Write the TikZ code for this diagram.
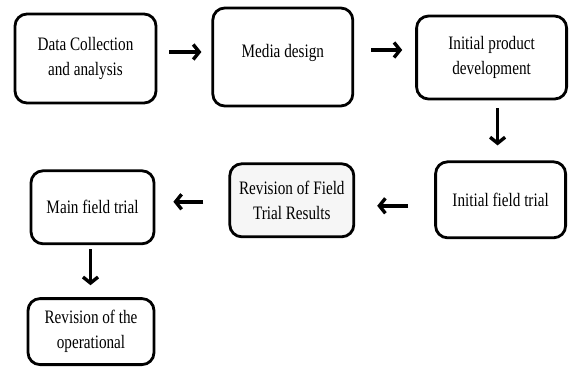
\documentclass[tikz,border=0pt]{standalone}
\usepackage{fontspec}
\setmainfont{Liberation Serif}[FakeStretch=0.8]
\usetikzlibrary{shapes,arrows.meta,positioning,calc}

\begin{document}
\begin{tikzpicture}[x=1pt, y=1pt, node distance=1cm,
    box/.style={rectangle, draw, line width=2.8pt, rounded corners=12pt, align=center, inner sep=2pt, font=\fontsize{19}{25}\selectfont},
    arr/.style={line width=3.4pt, -{Straight Barb[length=6pt, width=15pt]}}]
    \useasboundingbox (0,0) rectangle (575,-370);
    % Steps
    \node (b1) [box, minimum width=141pt, minimum height=89pt] at (85.5,-58.5) {Data Collection \\ and analysis};
    \node (b2) [box, right=54pt of b1, yshift=1.5pt, minimum width=140pt, minimum height=98pt, text depth=12pt] {Media design};
    \node (b3) [box, right=61pt of b2, yshift=-0.5pt, minimum width=150pt, minimum height=83pt] {Initial product \\ development};
    \node (b4) [box, below=60pt of b3, xshift=9pt, minimum width=130pt, minimum height=76pt] {Initial field trial};
    \node (b5) [box, left=79pt of b4, yshift=-0.5pt, fill=gray!7, minimum width=124pt, minimum height=73pt] {Revision of Field \\ Trial Results};
    \node (b6) [box, left=73pt of b5, yshift=-7pt, minimum width=123pt, minimum height=73pt] {Main field trial};
    \node (b7) [box, below=52pt of b6, xshift=-1.5pt, minimum width=126pt, minimum height=66pt] {Revision of the \\ operational};

    % Arrows
    \draw [arr, shorten <=12pt, shorten >=10pt] ([yshift=6.5pt]b1.east) -- ([yshift=6.5pt]b1.east -| b2.west);
    \draw [arr, shorten <=17pt, shorten >=13pt] ([yshift=7pt]b2.east) -- ([yshift=7pt]b2.east -| b3.west);
    \draw [arr, shorten <=8pt, shorten >=15pt] ([xshift=6pt]b3.south) -- ([xshift=6pt]b3.south |- b4.north);
    \draw [arr, shorten <=26pt, shorten >=22pt] ([yshift=-6pt]b4.west) -- ([yshift=-6pt]b4.west -| b5.east);
    \draw [arr, shorten <=25pt, shorten >=18pt] ([yshift=-1.5pt]b5.west) -- ([yshift=-1.5pt]b5.west -| b6.east);
    \draw [arr, shorten <=4pt, shorten >=12pt] ([xshift=-2pt]b6.south) -- ([xshift=-2pt]b6.south |- b7.north);
\end{tikzpicture}
\end{document}
